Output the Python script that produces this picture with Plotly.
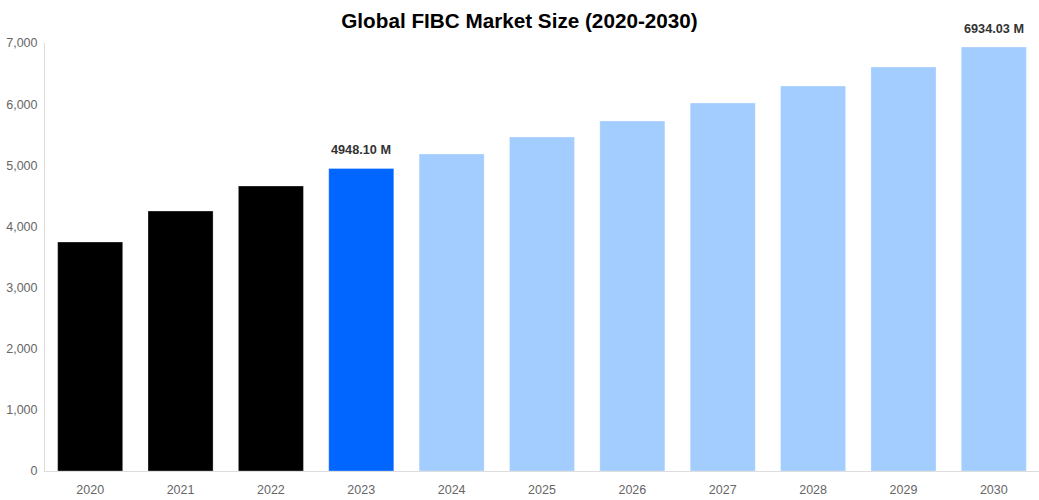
import plotly.graph_objects as go

years = [2020, 2021, 2022, 2023, 2024, 2025, 2026, 2027, 2028, 2029, 2030]
market_size = [3745, 4252, 4661, 4948.10, 5185, 5463, 5725, 6019, 6297, 6608, 6934.03]
bar_colors = ["#000000"] * 3 + ["#0066FF"] + ["#A2CDFE"] * 7
labels = ["", "", "", "4948.10 M", "", "", "", "", "", "", "6934.03 M"]

fig = go.Figure(
    go.Bar(
        x=years,
        y=market_size,
        marker=dict(color=bar_colors, line=dict(color="rgba(255,255,255,0.3)", width=1)),
        cliponaxis=False,
        hoverinfo="x+y",
    )
)

# value labels only on the current year and the last forecast year
for year, value, label in zip(years, market_size, labels):
    if label:
        fig.add_annotation(
            x=year, y=value, text=f"<b>{label}</b>", showarrow=False,
            yanchor="bottom", yshift=9,
            font=dict(family="Liberation Sans, Arial", size=12.7, color="#333333"),
        )

fig.update_layout(
    width=1039,
    height=500,
    margin=dict(l=45, r=0, t=43, b=29),
    paper_bgcolor="white",
    plot_bgcolor="white",
    bargap=0.28,
    showlegend=False,
    font=dict(family="Liberation Sans, Arial", color="#666666", size=12),
    title=dict(
        text="<b>Global FIBC Market Size (2020-2030)</b>",
        x=0.5,
        xanchor="center",
        y=0.958,
        yanchor="middle",
        font=dict(size=20.7, color="#000000"),
    ),
)
fig.update_xaxes(
    type="linear",
    range=[years[0] - 0.5, years[-1] + 0.5],
    tickmode="array",
    tickvals=years,
    ticktext=[str(y) for y in years],
    ticklabelstandoff=7,
    showline=True,
    linecolor="#dddddd",
    linewidth=1,
    showgrid=False,
    zeroline=False,
    ticks="",
    tickfont=dict(size=12.5, color="#666666"),
)
fig.update_yaxes(
    range=[0, 7000],
    dtick=1000,
    tickformat=",",
    ticklabelstandoff=4,
    showline=True,
    linecolor="#dddddd",
    linewidth=1,
    showgrid=False,
    zeroline=False,
    ticks="",
    tickfont=dict(size=12.5, color="#666666"),
)

fig.write_html(
    "out.html",
    config={"displayModeBar": False},
    post_script="document.body.style.margin='0';",
)
